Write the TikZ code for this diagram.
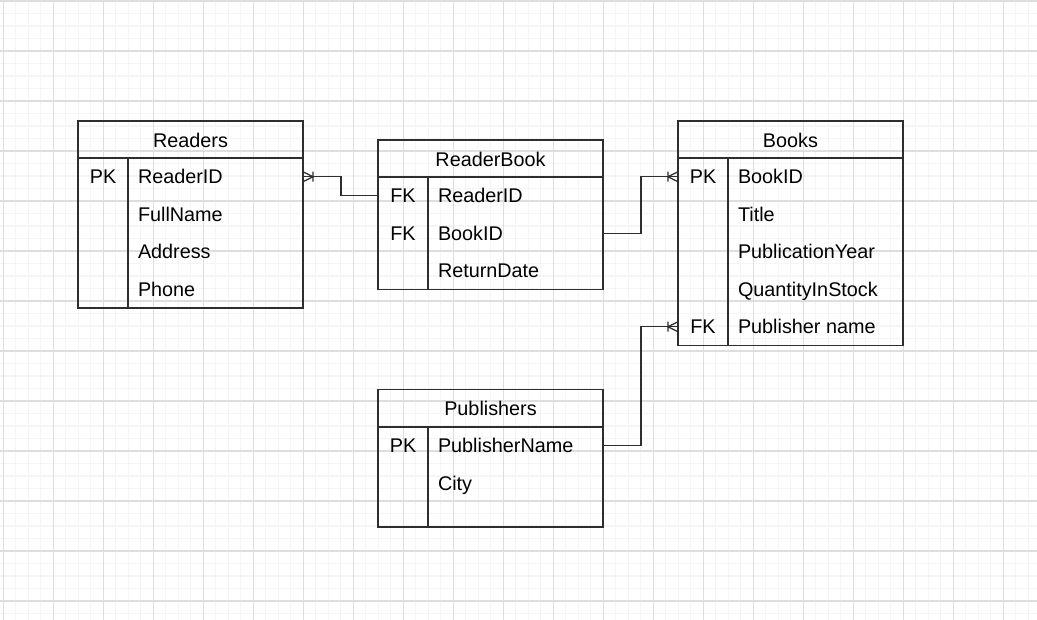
\documentclass[tikz,border=0pt]{standalone}
\usepackage{fontspec}
\setmainfont{Liberation Sans}
\usetikzlibrary{calc}
\newcommand\erow[6]{%
  \node[rowbox, minimum height=#4pt] (#1) at (#2,#3) {};
  \node[keytxt] (#1-k) at ($(#1.west)+(25,7)$) {#5};
  \node[fldtxt] (#1-f) at ($(#1.west)+(60,7)$) {#6};
}
\begin{document}
\begin{tikzpicture}[x=1pt,y=-1pt,
  every node/.style={inner sep=0pt, outer sep=0pt},
  txt/.style={font=\fontsize{19.8}{23}\selectfont, text=black},
  fldtxt/.style={txt, anchor=base west},
  keytxt/.style={txt, anchor=base},
  ttltxt/.style={txt, anchor=base},
  border/.style={draw=black!82, line width=1.3pt},
  tablebox/.style={border, rectangle, minimum width=225pt, anchor=north west},
  rowbox/.style={rectangle, minimum width=225pt, anchor=north west},
  conn/.style={draw=black!82, line width=1.3pt},
  gridminor/.style={draw=black!4, line width=1.2pt},
  gridmajor/.style={draw=black!13, line width=1.1pt},
  crowfoot/.pic={\draw[conn] (0,-5) -- (10,0) -- (0,5) (10,-5) -- (10,5);}
]
\useasboundingbox (0,0) rectangle (1037,620);
\fill[white] (0,0) rectangle (1037,620);
\begin{scope}
\clip (0,0) rectangle (1037,620);
\foreach \i in {0,...,84} {\draw[gridminor] ({3.3+12.5*(\i-1)},0) -- ++(0,620);}
\foreach \i in {0,...,50} {\draw[gridminor] (0,{1+12.5*(\i-1)}) -- ++(1037,0);}
\foreach \i in {0,...,21} {\draw[gridmajor] ({3.3+50*\i},0) -- ++(0,620);}
\foreach \i in {0,...,12} {\draw[gridmajor] (0,{1+50*\i}) -- ++(1037,0);}
\end{scope}

% ---------- Readers ----------
\node[tablebox, minimum height=187pt] (Readers) at (78,121) {};
\node[ttltxt] (Readers-t) at (190.5,147.5) {Readers};
\draw[border] (78,158) -- (303,158);
\draw[border] (128,158) -- (128,308);
\erow{R1}{78}{158}{37.5}{PK}{ReaderID}
\erow{R2}{78}{195.5}{37.5}{}{FullName}
\erow{R3}{78}{233}{37.5}{}{Address}
\erow{R4}{78}{270.5}{37.5}{}{Phone}

% ---------- ReaderBook ----------
\node[tablebox, minimum height=149.5pt] (ReaderBook) at (378,140) {};
\node[ttltxt] (ReaderBook-t) at (490.5,166.5) {ReaderBook};
\draw[border] (378,177) -- (603,177);
\draw[border] (428,177) -- (428,289.5);
\erow{RB1}{378}{177}{37.5}{FK}{ReaderID}
\erow{RB2}{378}{214.5}{37.5}{FK}{BookID}
\erow{RB3}{378}{252}{37.5}{}{ReturnDate}

% ---------- Books ----------
\node[tablebox, minimum height=224.5pt] (Books) at (678,121) {};
\node[ttltxt] (Books-t) at (790.5,147.5) {Books};
\draw[border] (678,158) -- (903,158);
\draw[border] (728,158) -- (728,345.5);
\erow{B1}{678}{158}{37.5}{PK}{BookID}
\erow{B2}{678}{195.5}{37.5}{}{Title}
\erow{B3}{678}{233}{37.5}{}{PublicationYear}
\erow{B4}{678}{270.5}{37.5}{}{QuantityInStock}
\erow{B5}{678}{308}{37.5}{FK}{Publisher name}

% ---------- Publishers ----------
\node[tablebox, minimum height=137.5pt] (Publishers) at (378,389.5) {};
\node[ttltxt] (Publishers-t) at (490.5,416) {Publishers};
\draw[border] (378,427) -- (603,427);
\draw[border] (428,427) -- (428,527);
\erow{P1}{378}{427}{37.5}{PK}{PublisherName}
\erow{P2}{378}{464.5}{37.5}{}{City}
\erow{P3}{378}{502}{25}{}{}

% ---------- connectors ----------
\draw[conn] (RB1.west) -- ++(-37,0) |- (R1.east);
\pic at (R1.east) {crowfoot};
\draw[conn] (RB2.east) -- ++(38,0) |- (B1.west);
\pic[xscale=-1] at (B1.west) {crowfoot};
\draw[conn] (P1.east) -- ++(38,0) |- (B5.west);
\pic[xscale=-1] at (B5.west) {crowfoot};
\end{tikzpicture}
\end{document}
